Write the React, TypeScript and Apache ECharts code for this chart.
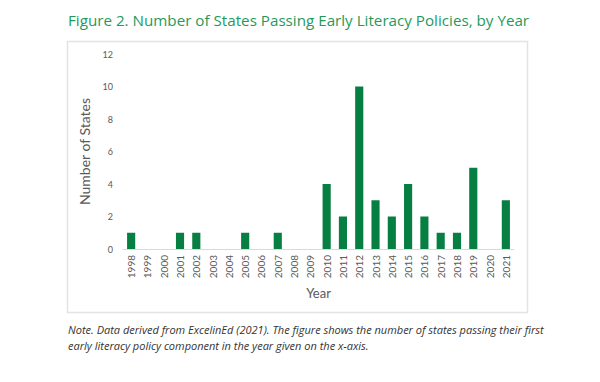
import React, { useEffect, useRef } from "react";
import * as echarts from "echarts";

const years = ["1998","1999","2000","2001","2002","2003","2004","2005","2006","2007","2008","2009","2010","2011","2012","2013","2014","2015","2016","2017","2018","2019","2020","2021"];
const states = [1,0,0,1,1,0,0,1,0,1,0,0,4,2,10,3,2,4,2,1,1,5,0,3];
const titleText = "Figure 2. Number of States Passing Early Literacy Policies, by Year";
const noteLine1 = "Note. Data derived from ExcelinEd (2021). The figure shows the number of states passing their first";
const noteLine2 = "early literacy policy component in the year given on the x-axis.";

export default function App() {
  const ref = useRef<HTMLDivElement>(null);
  useEffect(() => {
    if (!ref.current) return;
    const chart = echarts.init(ref.current, undefined, { renderer: "svg" });
    chart.setOption({
      animation: false,
      backgroundColor: "#ffffff",
      graphic: [
        {
          type: "rect",
          shape: { x: 67.5, y: 41.5, width: 460, height: 271 },
          style: { fill: "none", stroke: "#e3e3e3", lineWidth: 1.5 },
          silent: true,
        },
        {
          type: "text",
          x: 68,
          y: 20,
          style: {
            text: titleText,
            fill: "#1f9a5c",
            font: "15.2px 'Open Sans'",
            verticalAlign: "middle",
          },
        },
        {
          type: "text",
          x: 68,
          y: 329,
          style: {
            text: noteLine1,
            fill: "#333333",
            font: "italic 11px 'Open Sans'",
            verticalAlign: "middle",
          },
        },
        {
          type: "text",
          x: 68,
          y: 345,
          style: {
            text: noteLine2,
            fill: "#333333",
            font: "italic 11px 'Open Sans'",
            verticalAlign: "middle",
          },
        },
      ],
      grid: { left: 123, right: 86, top: 54, height: 195, containLabel: false },
      xAxis: {
        type: "category",
        data: years,
        name: "Year",
        nameLocation: "middle",
        nameGap: 36,
        nameTextStyle: { color: "#595959", fontSize: 13, fontFamily: "Lato" },
        axisLine: { lineStyle: { color: "#d9d9d9", width: 1 } },
        axisTick: { show: false },
        axisLabel: {
          rotate: 90,
          interval: 0,
          color: "#595959",
          fontSize: 10,
          fontFamily: "Lato",
          margin: 6,
        },
      },
      yAxis: {
        type: "value",
        min: 0,
        max: 12,
        interval: 2,
        name: "Number of States",
        nameLocation: "middle",
        nameGap: 24,
        nameTextStyle: { color: "#595959", fontSize: 14, fontFamily: "Lato" },
        splitLine: { show: false },
        axisLine: { show: false },
        axisTick: { show: false },
        axisLabel: { color: "#595959", fontSize: 9, fontFamily: "Lato", margin: 10 },
      },
      series: [
        {
          type: "bar",
          data: states,
          barWidth: "50%",
          itemStyle: { color: "#087f42", borderWidth: 0 },
        },
      ],
    });
    return () => chart.dispose();
  }, []);
  return (
    <div
      ref={ref}
      style={{ position: "fixed", left: 0, top: 0, width: 600, height: 382 }}
    />
  );
}
